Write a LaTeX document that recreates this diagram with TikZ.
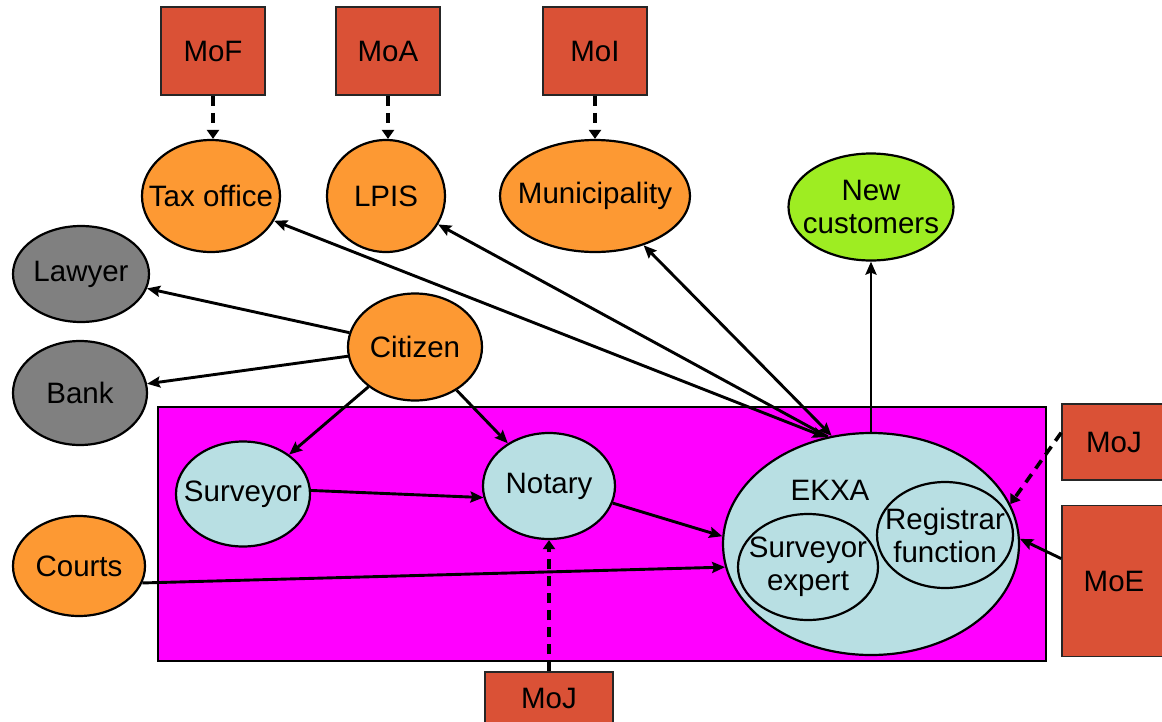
\documentclass[tikz,border=0pt]{standalone}
\usepackage{fontspec}
\setmainfont{Liberation Sans}
\usetikzlibrary{arrows.meta,shapes.geometric}

\definecolor{actororange}{RGB}{253,153,51}
\definecolor{outsidergray}{RGB}{128,128,128}
\definecolor{officeblue}{RGB}{184,223,227}
\definecolor{newgreen}{RGB}{158,237,34}
\definecolor{govred}{RGB}{218,81,54}
\definecolor{registrymagenta}{RGB}{255,0,255}

\begin{document}
\begin{tikzpicture}[x=1pt,y=-1pt,
    every node/.style={font=\fontsize{29.5pt}{33pt}\selectfont, align=center},
    el/.style={shape=ellipse, draw, line width=2.2pt, inner sep=0pt},
    actor/.style={el, fill=actororange},
    outsider/.style={el, fill=outsidergray},
    office/.style={el, fill=officeblue},
    govbox/.style={draw=black!85, line width=1.6pt, fill=govred, minimum width=104pt, minimum height=88pt},
    >={Stealth[length=13pt,width=11pt,inset=2pt]},
    flow/.style={line width=2.9pt, ->},
    oversee/.style={line width=3.6pt, dash pattern=on 10pt off 7pt, -{Triangle[length=9pt,width=12pt]}},
  ]
  \useasboundingbox (0,0) rectangle (1162,721);

  % registry area
  \draw[line width=2.2pt, fill=registrymagenta] (158,407) rectangle (1046,661);

  % ministries
  \node[govbox] (mof) at (213,51) {MoF};
  \node[govbox] (moa) at (388,51) {MoA};
  \node[govbox] (moi) at (595,51) {MoI};
  \node[govbox, minimum height=76pt] (mojr) at (1114,442) {MoJ};
  \node[govbox, minimum height=151pt] (moe) at (1114,581) {MoE};
  \node[govbox, minimum width=128pt, minimum height=52pt] (mojb) at (549,698) {MoJ};

  % actors
  \node[actor, minimum width=138pt, minimum height=112pt, label=center:Tax office] (tax) at (211,196) {};
  \node[actor, minimum width=118pt, minimum height=112pt, label=center:LPIS] (lpis) at (386,196) {};
  \node[actor, minimum width=190pt, minimum height=112pt, label=center:Municipality] (muni) at (595,196) {};
  \node[el, fill=newgreen, minimum width=165pt, minimum height=107pt, label=center:{New\\customers}] (newc) at (871,207) {};
  \node[outsider, minimum width=136pt, minimum height=96pt, label=center:Lawyer] (lawyer) at (81,274) {};
  \node[outsider, minimum width=134pt, minimum height=104pt, label=center:Bank] (bank) at (80,393) {};
  \node[actor, minimum width=134pt, minimum height=107pt, label=center:Citizen] (citizen) at (415,347) {};
  \node[actor, minimum width=132pt, minimum height=100pt, label=center:Courts] (courts) at (79,566) {};
  \node[office, minimum width=134pt, minimum height=105pt, label=center:Surveyor] (surveyor) at (243,494) {};
  \node[office, minimum width=132pt, minimum height=106pt, label=center:Notary] (notary) at (549,486) {};

  % EKXA with its two functions
  \node[office, minimum width=296pt, minimum height=222pt] (ekxa) at (871,544) {};
  \node (ekxatitle) at (830,490) {EKXA};
  \node[office, minimum width=140pt, minimum height=106pt, label=center:{Surveyor\\expert}] (svexpert) at (808,567) {};
  \node[office, minimum width=136pt, minimum height=106pt, label=center:{Registrar\\function}] (registrar) at (945,535) {};

  % supervision
  \draw[oversee] (mof) -- (mof |- tax.north);
  \draw[oversee] (moa) -- (moa |- lpis.north);
  \draw[oversee] (moi) -- (muni);
  \draw[oversee] (mojb) -- (notary);
  \draw[oversee] (mojr.170) -- (ekxa.16);
  \draw[flow] (moe.157) -- (ekxa.2);

  % flows
  \draw[flow] (citizen) -- (lawyer);
  \draw[flow] (citizen) -- (bank);
  \draw[flow] (citizen) -- (surveyor);
  \draw[flow] (citizen) -- (notary);
  \draw[flow] (surveyor.3) -- (notary.190);
  \draw[flow] (notary.-15) -- (ekxa.177);
  \draw[flow] (courts.-15) -- (ekxa.189);
  \draw[flow, <->] (ekxa.113) -- (tax);
  \draw[flow] (ekxa.112) -- (lpis);
  \draw[flow, <->] (ekxa.110) -- (muni);
  \draw[flow] (ekxa) -- (newc);
\end{tikzpicture}
\end{document}
